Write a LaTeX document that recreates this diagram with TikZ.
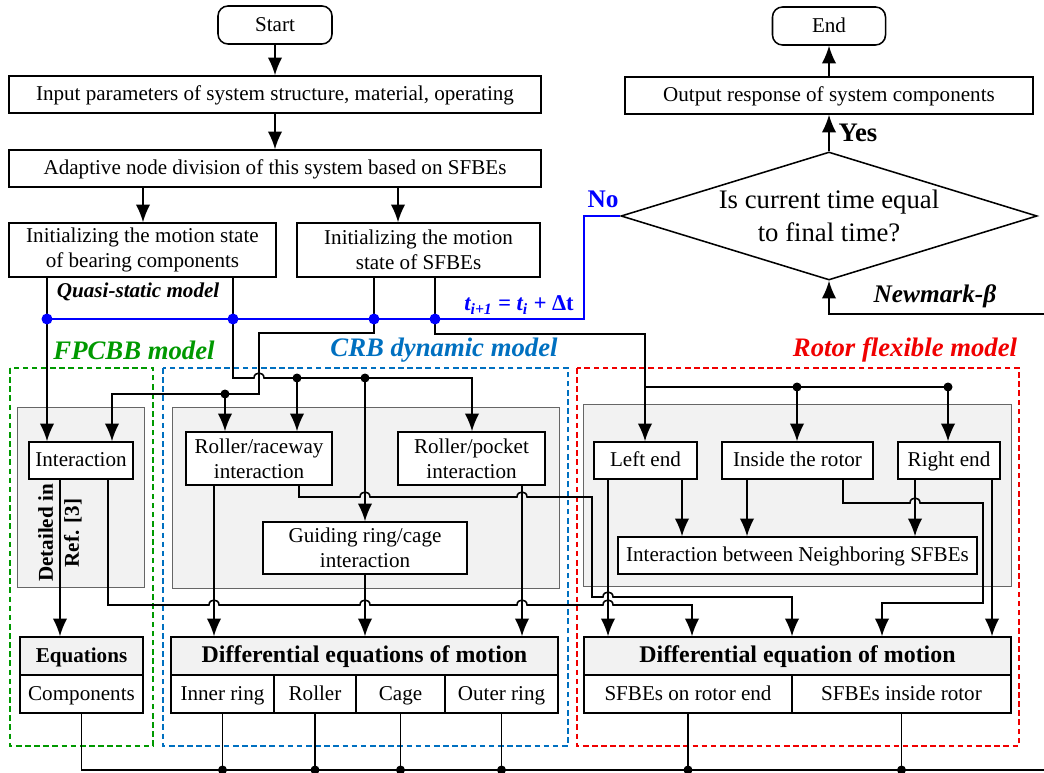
\documentclass[tikz,border=0pt]{standalone}
\usepackage{fontspec}
\setmainfont{Liberation Serif}
\usetikzlibrary{arrows.meta,shapes.geometric}
\definecolor{LoopBlue}{RGB}{0,0,255}
\definecolor{CrbBlue}{RGB}{0,112,192}
\definecolor{FpGreen}{RGB}{0,153,0}
\definecolor{RotorRed}{RGB}{240,0,0}
\definecolor{PanelGray}{RGB}{242,242,242}
\newcommand{\junction}[2][black]{\fill[#1] #2 circle (4.5);}
\tikzset{
  box/.style={draw,line width=1.1pt,fill=white,align=center,inner sep=0pt,
    font=\fontsize{15}{18}\selectfont},
  oneline/.style={text height=12pt,text depth=3pt},
  headbox/.style={box,oneline,fill=PanelGray,minimum height=0.95cm,
    font=\fontsize{17}{20}\selectfont\bfseries},
  cellbox/.style={box,oneline,minimum height=0.95cm},
  panel/.style={draw=black!60,fill=PanelGray,line width=0.6pt},
  frame/.style={line width=0.9pt,dash pattern=on 4pt off 2.5pt},
  wire/.style={line width=1.1pt},
  arr/.style={wire,-{Latex[length=4.4mm,width=3.6mm]}},
  loopline/.style={LoopBlue,line width=1.6pt},
  hop/.style={out=90,in=90,looseness=1.7},
  title/.style={font=\fontsize{19}{23}\selectfont\bfseries\itshape},
}

\begin{document}
\begin{tikzpicture}[x=0.025cm,y=-0.025cm]
  \useasboundingbox (0,0) rectangle (1044,773);
  \draw[frame,FpGreen] (10,368) rectangle (153,746);
  \draw[frame,CrbBlue] (163,368) rectangle (568,746);
  \draw[frame,RotorRed] (577,368) rectangle (1019,746);
  \draw[panel] (17,407) rectangle (144,587);
  \draw[panel] (172,407) rectangle (559,588);
  \draw[panel] (583,404) rectangle (1011,586);

  \node[title,text=FpGreen] (fptitle) at (134,350) {FPCBB model};
  \node[title,text=CrbBlue] (crbtitle) at (444,350) {CRB dynamic model};
  \node[title,text=RotorRed] (rotortitle) at (905,350) {Rotor flexible model};
  \node[anchor=west,font=\fontsize{15}{18}\selectfont\bfseries\itshape] (quasi) at (52,292) {Quasi-static model};

  \node[box,oneline,rounded corners=2.5mm,minimum width=2.85cm,minimum height=0.95cm] (start) at (275,25) {Start};
  \node[box,oneline,minimum width=13.3cm,minimum height=0.925cm] (input) at (275,94.5) {Input parameters of system structure, material, operating};
  \node[box,oneline,minimum width=13.3cm,minimum height=0.925cm] (adapt) at (275,168.5) {Adaptive node division of this system based on SFBEs};
  \node[box,minimum width=6.675cm,minimum height=1.35cm] (initb) at (142.5,250) {Initializing the motion state\\of bearing components};
  \node[box,minimum width=6.075cm,minimum height=1.35cm] (inits) at (418.5,250) {Initializing the motion\\state of SFBEs};

  \node[box,oneline,rounded corners=2.5mm,minimum width=2.825cm,minimum height=0.95cm] (stop) at (829,26) {End};
  \node[box,oneline,minimum width=10.2cm,minimum height=0.925cm] (output) at (829,95.5) {Output response of system components};
  \node[diamond,draw,line width=1.1pt,minimum width=10.4cm,minimum height=3.2cm,inner sep=0pt] (check) at (829,216) {};
  \node[align=center,font=\fontsize{19}{23}\selectfont] (checktxt) at (829,216) {Is current time equal\\to final time?};
  \node[font=\fontsize{19}{23}\selectfont\bfseries] (yes) at (858,133) {Yes};
  \node[font=\fontsize{18}{22}\selectfont\bfseries\itshape] (newmark) at (935,296) {Newmark-β};
  \node[font=\fontsize{18}{22}\selectfont\bfseries,text=LoopBlue] (no) at (603,199) {No};
  \node[font=\fontsize{16}{19}\selectfont\bfseries\itshape,text=LoopBlue] (tstep) at (519,305) {t\textsubscript{i+1} = t\textsubscript{i} + {\upshape Δt}};

  \node[box,oneline,minimum width=2.6cm,minimum height=0.925cm] (inter) at (81,460.5) {Interaction};
  \node[rotate=90,align=center,font=\fontsize{15}{18.5}\selectfont\bfseries] (detail) at (60,533) {Detailed in\\Ref. [3]};
  \node[box,oneline,fill=PanelGray,minimum width=3.075cm,minimum height=0.95cm,font=\fontsize{15}{18}\selectfont\bfseries] (eqh) at (81.5,656) {Equations};
  \node[cellbox,minimum width=3.075cm] (comp) at (81.5,694) {Components};

  \node[box,minimum width=3.65cm,minimum height=1.325cm] (rrw) at (259,458.5) {Roller/raceway\\interaction};
  \node[box,minimum width=3.675cm,minimum height=1.325cm] (rpk) at (471.5,458.5) {Roller/pocket\\interaction};
  \node[box,minimum width=5.1cm,minimum height=1.3cm] (guide) at (365,548) {Guiding ring/cage\\interaction};
  \node[headbox,minimum width=9.675cm] (cdh) at (364.5,656) {Differential equations of motion};
  \node[cellbox,minimum width=2.575cm] (inner) at (222.5,694) {Inner ring};
  \node[cellbox,minimum width=2.05cm] (roll) at (315,694) {Roller};
  \node[cellbox,minimum width=2.225cm] (cage) at (400.5,694) {Cage};
  \node[cellbox,minimum width=2.825cm] (outer) at (501.5,694) {Outer ring};

  \node[box,oneline,minimum width=2.575cm,minimum height=0.925cm] (lend) at (645.5,460.5) {Left end};
  \node[box,oneline,minimum width=3.775cm,minimum height=0.925cm] (inside) at (797.5,460.5) {Inside the rotor};
  \node[box,oneline,minimum width=2.55cm,minimum height=0.925cm] (rend) at (949,460.5) {Right end};
  \node[box,oneline,minimum width=8.975cm,minimum height=0.925cm] (nbr) at (797.5,555.5) {Interaction between Neighboring SFBEs};
  \node[headbox,minimum width=10.675cm] (rdh) at (797.5,656) {Differential equation of motion};
  \node[cellbox,minimum width=5.2cm] (send) at (688,694) {SFBEs on rotor end};
  \node[cellbox,minimum width=5.475cm] (sins) at (901.5,694) {SFBEs inside rotor};

  \draw[arr] (start) -- (input);
  \draw[arr] (input) -- (adapt);
  \draw[arr] (143,0 |- adapt.south) -- (143,0 |- initb.north);
  \draw[arr] (398,0 |- adapt.south) -- (398,0 |- inits.north);
  \draw[arr] (check.north) -- (output);
  \draw[arr] (output) -- (stop);
  \coordinate (nmr) at (1044,314);
  \draw[arr] (nmr) -- (check.south |- nmr) -- (check.south);

  \coordinate (b1) at (47,319);
  \coordinate (b2) at (233,319);
  \coordinate (b3) at (374,319);
  \coordinate (b4) at (435,319);
  \draw[arr] (47,0 |- initb.south) -- (47,0 |- inter.north);
  \draw[arr] (233,0 |- initb.south) -- (233,378) -- (254,378) to[hop] (264,378) -- (472,378) -- (472,0 |- rpk.north);
  \draw[arr] (297,378) -- (297,0 |- rrw.north);
  \draw[arr] (365,378) -- (guide.north);
  \draw[arr] (374,0 |- inits.south) -- (374,333) -- (259,333) -- (259,394) -- (112,394) -- (112,0 |- inter.north);
  \draw[arr] (225,394) -- (225,0 |- rrw.north);
  \draw[arr] (435,0 |- inits.south) -- (435,334) -- (645,334) -- (645,0 |- lend.north);
  \draw[wire] (645,387) -- (948,387);
  \draw[arr] (797,387) -- (797,0 |- inside.north);
  \draw[arr] (948,387) -- (948,0 |- rend.north);
  \foreach \p in {(297,378),(365,378),(225,394),(797,387),(948,387)} {
    \junction{\p}
  }

  \draw[loopline] (b1) -- (b4) -- (584,319) |- (check.west);
  \foreach \p in {b1,b2,b3,b4}
    \fill[LoopBlue] (\p) circle (5.5);

  \draw[arr] (60,0 |- inter.south) -- (60,0 |- eqh.north);
  \draw[arr] (108,0 |- inter.south) -- (108,605) -- (209,605) to[hop] (219,605) -- (360,605) to[hop] (370,605)
    -- (517,605) to[hop] (527,605) -- (603,605) to[hop] (613,605) -- (692,605) -- (692,0 |- rdh.north);
  \draw[arr] (214,0 |- rrw.south) -- (214,0 |- cdh.north);
  \draw[arr] (299,0 |- rrw.south) -- (299,497) -- (360,497) to[hop] (370,497) -- (517,497) to[hop] (527,497)
    -- (592,497) -- (592,597) -- (603,597) to[hop] (613,597) -- (792,597) -- (792,0 |- rdh.north);
  \draw[arr] (guide.south) -- (guide.south |- cdh.north);
  \draw[arr] (522,0 |- rpk.south) -- (522,0 |- cdh.north);

  \draw[arr] (608,0 |- lend.south) -- (608,0 |- rdh.north);
  \draw[arr] (682,0 |- lend.south) -- (682,0 |- nbr.north);
  \draw[arr] (747,0 |- inside.south) -- (747,0 |- nbr.north);
  \draw[arr] (843,0 |- inside.south) -- (843,503) -- (910,503) to[hop] (920,503) -- (983,503) -- (983,603)
    -- (882,603) -- (882,0 |- rdh.north);
  \draw[arr] (915,0 |- rend.south) -- (915,0 |- nbr.north);
  \draw[arr] (992,0 |- rend.south) -- (992,0 |- rdh.north);

  \draw[wire] (comp.south) -- (comp.south |- 0,770) -- (1044,770);
  \foreach \n in {inner,roll,cage,outer,send,sins} {
    \draw[wire] (\n.south) -- (\n.south |- 0,770);
    \junction{(\n.south |- 0,770)}
  }
\end{tikzpicture}
\end{document}
